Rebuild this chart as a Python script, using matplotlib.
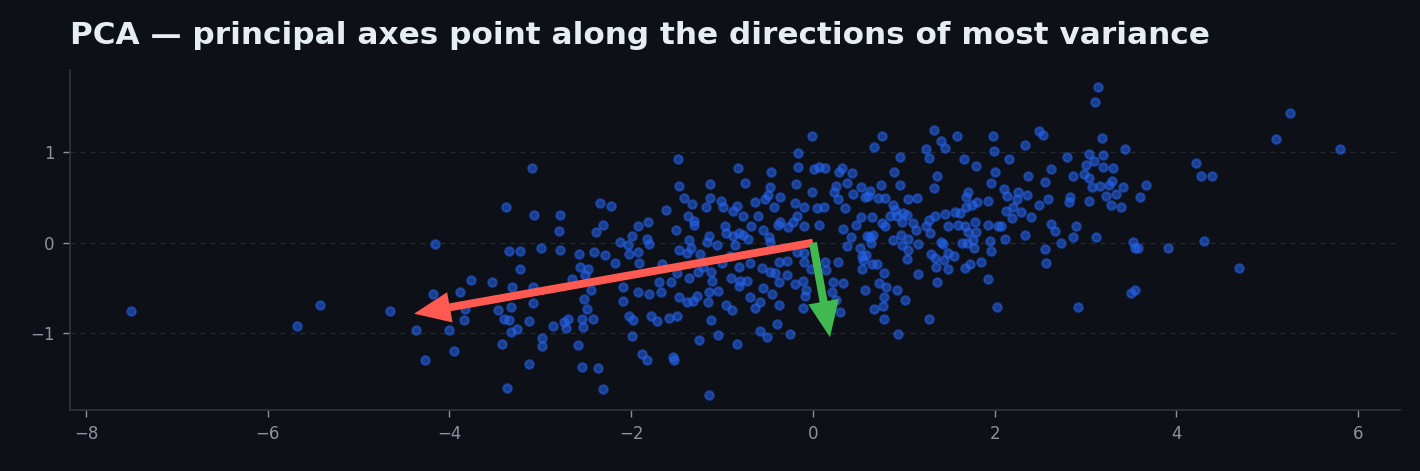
import numpy as np
import matplotlib
matplotlib.use("Agg")
import matplotlib.pyplot as plt

# scatter samples (x, y)
samples = [
    (-7.50, -0.76), (-5.68, -0.92), (-5.42, -0.69), (-4.66, -0.76),
    # left cluster
    (-3.09, 0.83), (-3.38, 0.40), (-3.07, 0.31), (-2.78, 0.31), (-2.79, 0.13),
    (-4.16, -0.01), (-3.34, -0.09), (-3.22, -0.09), (-2.99, -0.06), (-2.78, -0.08),
    (-3.22, -0.29), (-3.76, -0.41), (-3.53, -0.43), (-3.31, -0.49), (-3.08, -0.49),
    (-4.18, -0.57), (-3.88, -0.54), (-3.83, -0.73), (-3.47, -0.74), (-3.32, -0.71),
    (-3.08, -0.67), (-3.40, -0.84), (-3.34, -0.85), (-3.84, -0.85), (-3.12, -0.87),
    (-2.86, -0.92), (-4.37, -0.97), (-4.00, -0.96), (-3.32, -0.99), (-3.26, -0.95),
    (-2.98, -1.05), (-2.98, -1.14), (-3.42, -1.12), (-3.95, -1.20), (-4.27, -1.30),
    (-3.12, -1.34), (-3.37, -1.61),
    # x in [-2.8, -1.2]
    (-1.49, 0.93), (-1.47, 0.63), (-1.42, 0.49), (-1.33, 0.43), (-2.34, 0.44),
    (-2.22, 0.41), (-1.62, 0.36), (-1.38, 0.30), (-1.31, 0.24), (-2.31, 0.20),
    (-2.39, 0.12), (-1.82, 0.23), (-1.93, 0.18), (-1.51, 0.14), (-1.99, 0.07),
    (-2.12, 0.01), (-2.04, -0.02), (-1.83, 0.04), (-1.80, -0.01), (-1.36, 0.03),
    (-2.57, -0.13), (-2.41, -0.10), (-2.29, -0.14), (-2.18, -0.22), (-2.02, -0.13),
    (-1.93, -0.10), (-1.47, -0.08), (-1.39, -0.11), (-1.34, -0.06), (-1.91, -0.22),
    (-2.56, -0.27), (-2.48, -0.29), (-1.66, -0.23), (-1.50, -0.33), (-1.36, -0.39),
    (-2.51, -0.36), (-2.65, -0.40), (-1.69, -0.43), (-1.56, -0.43), (-2.09, -0.49),
    (-2.44, -0.52), (-1.93, -0.54), (-1.80, -0.57), (-1.67, -0.55), (-1.47, -0.60),
    (-1.28, -0.59), (-2.52, -0.62), (-2.09, -0.64), (-1.39, -0.66), (-1.32, -0.65),
    (-2.49, -0.73), (-2.70, -0.84), (-2.74, -0.88), (-2.72, -0.94), (-2.54, -0.84),
    (-2.53, -0.93), (-2.42, -0.84), (-2.02, -0.81), (-1.98, -0.85), (-1.78, -0.81),
    (-1.72, -0.87), (-1.58, -0.83), (-1.50, -0.81), (-1.25, -1.08), (-2.59, -1.13),
    (-1.99, -1.03), (-1.88, -1.23), (-1.83, -1.30), (-1.54, -1.26), (-1.53, -1.30),
    (-2.54, -1.37), (-2.37, -1.39), (-2.31, -1.62),
    # x in [-1.3, 0.4]
    (-0.01, 1.18), (-0.17, 0.99), (-0.17, 0.84), (-0.83, 0.83), (-0.46, 0.78),
    (0.01, 0.81), (0.07, 0.84), (0.13, 0.83), (0.29, 0.78), (0.32, 0.83),
    (-1.13, 0.65), (-0.75, 0.66), (-0.47, 0.62), (-0.19, 0.65), (-0.01, 0.56),
    (0.25, 0.63), (0.23, 0.56), (0.37, 0.66), (-1.13, 0.50), (-1.18, 0.39),
    (-1.01, 0.46), (-0.99, 0.39), (-0.88, 0.35), (-0.84, 0.41), (-0.64, 0.45),
    (-0.53, 0.48), (-0.50, 0.53), (-0.36, 0.51), (-0.43, 0.39), (-0.20, 0.44),
    (-0.10, 0.39), (0.04, 0.38), (0.12, 0.39), (0.28, 0.48), (0.35, 0.38),
    (-1.31, 0.20), (-0.97, 0.19), (-0.77, 0.29), (-0.68, 0.18), (-0.60, 0.30),
    (-0.55, 0.14), (-0.39, 0.20), (-0.36, 0.23), (-0.27, 0.17), (-0.22, 0.23),
    (-0.18, 0.30), (-0.10, 0.19), (0.07, 0.20), (0.33, 0.15), (-1.17, 0.01),
    (-1.14, 0.07), (-1.06, -0.03), (-0.96, 0.11), (-0.88, 0.07), (-0.86, -0.02),
    (-0.81, 0.11), (-0.77, 0.09), (-0.72, 0.04), (-0.48, 0.06), (-0.47, 0.01),
    (-1.24, -0.13), (-1.27, -0.32), (-1.21, -0.27), (-1.12, -0.32), (-1.11, -0.42),
    (-1.00, -0.22), (-0.91, -0.15), (-0.81, -0.27), (-0.69, -0.22), (-0.56, -0.28),
    (-0.47, -0.32), (-0.42, -0.33), (-0.37, -0.21), (-0.29, -0.20), (-0.37, -0.43),
    (-0.29, -0.36), (-0.18, -0.10), (-0.10, -0.11), (-0.10, -0.21), (-0.90, -0.39),
    (-0.80, -0.42), (-0.73, -0.42), (-0.81, -0.48), (-0.20, -0.46), (-0.11, -0.42),
    (-0.08, -0.52), (-0.09, -0.59), (-0.02, -0.29), (0.13, -0.21), (0.14, -0.30),
    (0.22, -0.43), (0.28, -0.21), (0.33, -0.44), (0.21, -0.54), (0.25, -0.63),
    (-1.14, -0.55), (-1.16, -0.66), (-1.05, -0.53), (-0.96, -0.69), (-0.89, -0.74),
    (-0.69, -0.60), (-0.64, -0.72), (-0.58, -0.66), (-0.55, -0.50), (-0.45, -0.57),
    (-0.37, -0.69), (-0.11, -0.72), (0.30, -0.77), (-1.12, -0.85), (-1.05, -1.02),
    (-0.84, -1.12), (-0.58, -0.98), (-0.51, -1.04), (-0.40, -0.90), (-0.25, -1.01),
    (-1.14, -1.68),
    # x in [0.4, 2.0]
    (1.33, 1.25), (0.76, 1.18), (1.58, 1.18), (1.98, 1.18), (0.67, 1.06),
    (1.24, 1.04), (1.41, 1.12), (1.45, 1.05), (0.96, 0.95), (1.28, 0.94),
    (1.66, 0.93), (1.79, 0.85), (1.99, 1.01), (0.43, 0.77), (0.89, 0.78),
    (1.36, 0.74), (2.00, 0.78), (0.53, 0.62), (0.63, 0.57), (0.75, 0.64),
    (0.96, 0.64), (1.33, 0.60), (1.96, 0.66), (0.44, 0.54), (0.57, 0.51),
    (0.61, 0.52), (0.72, 0.49), (0.79, 0.49), (1.05, 0.48), (1.14, 0.49),
    (1.71, 0.56), (1.68, 0.51), (1.80, 0.45), (1.93, 0.46), (0.88, 0.42),
    (0.90, 0.36), (0.99, 0.33), (1.03, 0.31), (0.92, 0.29), (1.34, 0.30),
    (1.45, 0.32), (1.56, 0.34), (1.62, 0.33), (1.68, 0.40), (1.75, 0.42),
    (0.53, 0.28), (0.65, 0.28), (0.47, 0.20), (0.76, 0.22), (0.79, 0.18),
    (0.85, 0.29), (0.98, 0.23), (1.10, 0.22), (1.13, 0.14), (1.24, 0.18),
    (1.28, 0.25), (1.29, 0.11), (1.49, 0.18), (1.60, 0.20), (1.67, 0.18),
    (1.71, 0.12), (1.78, 0.23), (1.79, 0.12), (1.93, 0.20), (2.04, 0.19),
    (0.42, 0.06), (0.37, -0.04), (0.52, -0.06), (0.59, 0.07), (0.63, 0.06),
    (0.66, 0.08), (0.64, 0.00), (0.88, 0.03), (0.97, 0.08), (0.98, -0.02),
    (1.05, 0.04), (1.05, -0.08), (1.16, -0.01), (1.41, 0.01), (1.43, -0.01),
    (1.64, 0.00), (1.69, 0.00), (1.76, 0.03), (1.77, -0.06), (1.95, 0.02),
    (1.96, -0.09), (0.54, -0.15), (0.58, -0.14), (0.55, -0.19), (0.65, -0.24),
    (0.70, -0.23), (0.54, -0.29), (1.03, -0.18), (1.30, -0.13), (1.34, -0.17),
    (1.35, -0.27), (1.44, -0.19), (1.49, -0.11), (1.55, -0.15), (1.49, -0.29),
    (1.67, -0.28), (1.73, -0.24), (1.85, -0.21), (0.78, -0.34), (0.73, -0.44),
    (0.80, -0.49), (1.16, -0.35), (1.36, -0.43), (1.93, -0.40), (0.57, -0.52),
    (0.92, -0.52), (0.78, -0.60), (1.01, -0.63), (0.77, -0.70), (0.67, -0.73),
    (2.02, -0.71), (0.78, -0.84), (1.28, -0.84), (0.94, -1.01),
    # x in [2.0, 3.7]
    (3.14, 1.72), (3.10, 1.56), (2.49, 1.23), (2.53, 1.19), (2.33, 1.08),
    (3.18, 1.16), (3.43, 1.04), (2.16, 0.93), (2.79, 0.95), (3.04, 0.98),
    (3.19, 0.97), (3.09, 0.90), (3.00, 0.86), (3.19, 0.84), (3.30, 0.83),
    (2.62, 0.82), (2.37, 0.74), (2.86, 0.74), (2.98, 0.76), (3.04, 0.72),
    (2.55, 0.67), (3.29, 0.68), (3.66, 0.64), (2.10, 0.59), (2.13, 0.52),
    (2.26, 0.56), (2.35, 0.53), (3.07, 0.62), (3.16, 0.63), (3.26, 0.64),
    (3.41, 0.62), (3.22, 0.52), (3.33, 0.54), (3.60, 0.51), (2.24, 0.48),
    (2.59, 0.48), (2.83, 0.51), (2.82, 0.45), (3.04, 0.46), (2.20, 0.40),
    (2.49, 0.42), (3.28, 0.42), (3.39, 0.40), (2.12, 0.35), (2.29, 0.34),
    (2.19, 0.27), (2.40, 0.28), (2.07, 0.19), (2.62, 0.21), (2.66, 0.13),
    (2.90, 0.18), (2.11, 0.04), (2.33, 0.08), (2.73, 0.00), (2.86, 0.06),
    (3.12, 0.06), (2.55, -0.07), (3.52, 0.01), (3.54, -0.06), (3.58, -0.06),
    (2.56, -0.22), (2.92, -0.71), (3.50, -0.56), (3.54, -0.52),
    # right tail
    (5.25, 1.43), (5.09, 1.15), (5.80, 1.04), (4.22, 0.88), (4.27, 0.74),
    (4.39, 0.74), (3.91, -0.06), (4.30, 0.02), (4.69, -0.28),
]

# principal axes, drawn from the mean
origin = (0.0, 0.0)
pc1_tip = (-4.39, -0.785)
pc2_tip = (0.187, -1.046)

title = "PCA \u2014 principal axes point along the directions of most variance"
xticks = [-8, -6, -4, -2, 0, 2, 4, 6]
yticks = [-1, 0, 1]

bg = "#0d1017"
xs = np.array([p[0] for p in samples])
ys = np.array([p[1] for p in samples])

fig = plt.figure(figsize=(14.2, 4.71), dpi=100, facecolor=bg)
ax = fig.add_axes([70 / 1420, 1 - 410 / 471, 1330 / 1420, 340 / 471])
ax.set_facecolor(bg)

ax.scatter(xs, ys, s=36, color="#2563eb", alpha=0.55, linewidths=1.6, zorder=2)

for tip, col in [(pc1_tip, "#ff5a52"), (pc2_tip, "#3fb950")]:
    ax.arrow(origin[0], origin[1], tip[0] - origin[0], tip[1] - origin[1],
             width=0.088, head_width=0.34, head_length=0.40,
             length_includes_head=True, color=col, lw=0, zorder=3)

ax.set_xlim(-8.176, 6.46)
ax.set_ylim(-1.85, 1.91)
ax.set_xticks(xticks)
ax.set_yticks(yticks)
ax.set_xticklabels([f"\u2212{abs(t)}" if t < 0 else str(t) for t in xticks])
ax.set_yticklabels([f"\u2212{abs(t)}" if t < 0 else str(t) for t in yticks])

ax.grid(axis="y", color="#232a33", linestyle=(0, (4, 4)), linewidth=0.9)
ax.set_axisbelow(True)
for s in ["top", "right"]:
    ax.spines[s].set_visible(False)
for s in ["left", "bottom"]:
    ax.spines[s].set_color("#30363d")
    ax.spines[s].set_linewidth(1.2)
ax.tick_params(colors="#8b949e", labelsize=12, length=5, width=1, pad=6)

ax.set_title(title, loc="left", color="#e6edf3", fontsize=22.4,
             fontweight="bold", pad=19)

fig.savefig("out.png", dpi=100, facecolor=bg)
